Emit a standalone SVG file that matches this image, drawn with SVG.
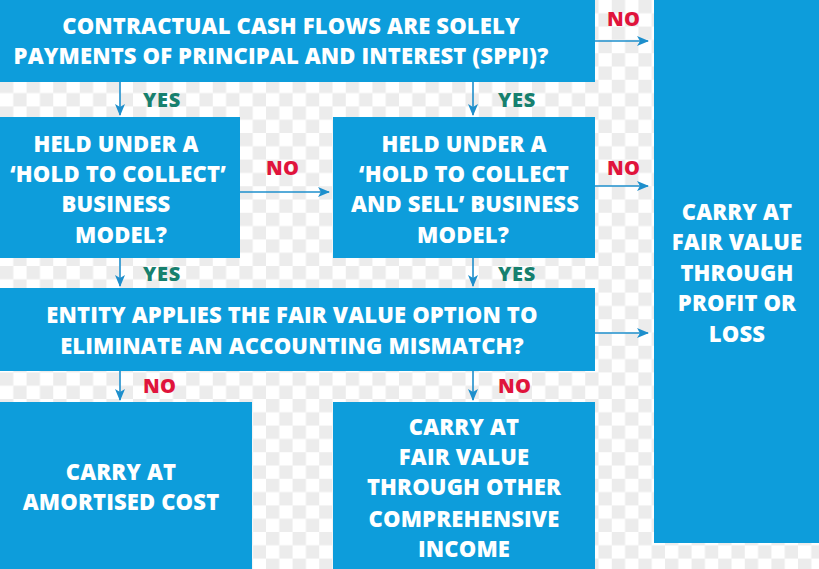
<svg xmlns="http://www.w3.org/2000/svg" width="819" height="569" viewBox="0 0 819 569">
<defs>
<pattern id="chk" x="0" y="0" width="26.6" height="26.6" patternUnits="userSpaceOnUse">
<rect width="26.6" height="26.6" fill="#ffffff"/>
<rect x="0" y="0" width="13.3" height="13.3" fill="#ececec"/>
<rect x="13.3" y="13.3" width="13.3" height="13.3" fill="#ececec"/>
</pattern>
<marker id="ah" viewBox="0 0 12 10" refX="11" refY="5" markerWidth="12" markerHeight="10" markerUnits="userSpaceOnUse" orient="auto">
<path d="M0,0 L12,5 L0,10 L3,5 Z" fill="#1e8fcc"/>
</marker>
<style>
.box{fill:#0d9ddb}
.t{font-family:"Open Sans","Liberation Sans",sans-serif;font-weight:800;font-size:22px;letter-spacing:0.15px;fill:#ffffff;text-anchor:middle}
.yes{font-family:"Open Sans","Liberation Sans",sans-serif;font-weight:800;font-size:20px;letter-spacing:0.8px;fill:#17806e}
.no{font-family:"Open Sans","Liberation Sans",sans-serif;font-weight:800;font-size:20px;letter-spacing:0.3px;fill:#e0143c}
.c{stroke:#1e8fcc;stroke-width:1.6;fill:none;marker-end:url(#ah)}
</style>
</defs>
<rect width="819" height="569" fill="url(#chk)"/>

<g id="connectors">
<line class="c" x1="120" y1="82" x2="120" y2="115"/>
<line class="c" x1="473" y1="82" x2="473" y2="115"/>
<line class="c" x1="595" y1="41" x2="648" y2="41"/>
<line class="c" x1="240" y1="192" x2="329" y2="192"/>
<line class="c" x1="595" y1="186" x2="648" y2="186"/>
<line class="c" x1="120" y1="258" x2="120" y2="286"/>
<line class="c" x1="473" y1="258" x2="473" y2="286"/>
<line class="c" x1="595" y1="333" x2="648" y2="333"/>
<line class="c" x1="120" y1="371" x2="120" y2="400"/>
<line class="c" x1="473" y1="371" x2="473" y2="400"/>
<text class="yes" x="143" y="107">YES</text>
<text class="yes" x="498" y="107">YES</text>
<text class="yes" x="143" y="281">YES</text>
<text class="yes" x="498" y="281">YES</text>
<text class="no" x="607" y="26">NO</text>
<text class="no" x="266" y="175">NO</text>
<text class="no" x="607" y="175">NO</text>
<text class="no" x="143" y="393">NO</text>
<text class="no" x="498" y="393">NO</text>
</g>

<g id="sppi">
<rect class="box" x="0" y="0" width="595" height="82"/>
<text class="t" x="291" y="34">CONTRACTUAL CASH FLOWS ARE SOLELY</text>
<text class="t" x="281" y="64">PAYMENTS OF PRINCIPAL AND INTEREST (SPPI)?</text>
</g>

<g id="fvpl">
<rect class="box" x="654" y="0" width="165" height="543"/>
<text class="t" x="737" y="220">CARRY AT</text>
<text class="t" x="737" y="250">FAIR VALUE</text>
<text class="t" x="737" y="281">THROUGH</text>
<text class="t" x="737" y="311">PROFIT OR</text>
<text class="t" x="737" y="342">LOSS</text>
</g>

<g id="htc">
<rect class="box" x="0" y="117" width="240" height="141"/>
<text class="t" x="116" y="152">HELD UNDER A</text>
<text class="t" x="118" y="182">‘HOLD TO COLLECT’</text>
<text class="t" x="116" y="212">BUSINESS</text>
<text class="t" x="121" y="243">MODEL?</text>
</g>

<g id="htcs">
<rect class="box" x="333" y="117" width="262" height="141"/>
<text class="t" x="464" y="152">HELD UNDER A</text>
<text class="t" x="464" y="182">‘HOLD TO COLLECT</text>
<text class="t" x="465" y="212">AND SELL’ BUSINESS</text>
<text class="t" x="463" y="243">MODEL?</text>
</g>

<g id="fvo">
<rect class="box" x="0" y="288" width="595" height="83"/>
<text class="t" x="292" y="323">ENTITY APPLIES THE FAIR VALUE OPTION TO</text>
<text class="t" x="292" y="354">ELIMINATE AN ACCOUNTING MISMATCH?</text>
</g>

<g id="amortised">
<rect class="box" x="0" y="402" width="252" height="167"/>
<text class="t" x="121" y="480">CARRY AT</text>
<text class="t" x="121" y="510">AMORTISED COST</text>
</g>

<g id="fvoci">
<rect class="box" x="333" y="402" width="262" height="167"/>
<text class="t" x="464" y="435">CARRY AT</text>
<text class="t" x="464" y="465">FAIR VALUE</text>
<text class="t" x="464" y="495">THROUGH OTHER</text>
<text class="t" x="464" y="527">COMPREHENSIVE</text>
<text class="t" x="464" y="557">INCOME</text>
</g>
</svg>
